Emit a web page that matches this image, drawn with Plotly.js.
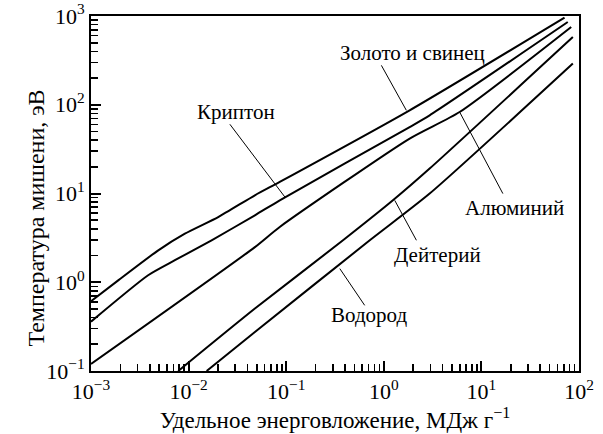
<!DOCTYPE html>
<html>
<head>
<meta charset="utf-8">
<script src="https://cdn.plot.ly/plotly-3.0.1.min.js"></script>
<style>html,body{margin:0;padding:0;background:#fff;}#chart{width:603px;height:434px;}</style>
</head>
<body>
<div id="chart"></div>
<script>
// Series names (labels drawn on the chart)
const seriesNames = ["Золото и свинец", "Криптон", "Алюминий", "Дейтерий", "Водород"];

// Specific energy deposition, MJ/g  (x) and target temperature, eV (y)
const goldX = [0.001, 0.0019, 0.00489, 0.00916, 0.0201, 0.0478, 0.0859, 1.84, 71.1];
const goldY = [0.61, 1.05, 2.29, 3.53, 5.43, 9.55, 13.5, 86.5, 959];

const kryptonX = [0.001, 0.00385, 0.00724, 0.0172, 0.0478, 0.0859, 1.84, 2.95, 76.7];
const kryptonY = [0.36, 1.20, 1.77, 2.97, 5.68, 8.38, 56.1, 76.0, 855];

const aluminumX = [0.001, 0.0478, 0.0859, 1.84, 5.98, 83.2];
const aluminumY = [0.12, 2.49, 4.20, 41.6, 82.8, 752];

const deuteriumX = [0.00783, 0.0478, 0.382, 1.24, 2.95, 86.5];
const deuteriumY = [0.1, 0.505, 2.97, 8.38, 19.1, 579];

const hydrogenX = [0.0153, 0.0478, 0.718, 2.95, 86.5];
const hydrogenY = [0.1, 0.275, 2.97, 9.98, 291];

// Tick labels
const xTickVals = [0.001, 0.01, 0.1, 1, 10, 100];
const xTickText = ["10<sup>−3</sup>", "10<sup>−2</sup>", "10<sup>−1</sup>", "10<sup>0</sup>", "10<sup>1</sup>", "10<sup>2</sup>"];
const yTickVals = [0.1, 1, 10, 100, 1000];
const yTickText = ["10<sup>−1</sup>", "10<sup>0</sup>", "10<sup>1</sup>", "10<sup>2</sup>", "10<sup>3</sup>"];

const xTitle = "Удельное энерговложение, МДж г<sup>−1</sup>";
const yTitle = "Температура мишени, эВ";

const FONT = "Liberation Serif, Times New Roman, serif";
const seriesX = [goldX, kryptonX, aluminumX, deuteriumX, hydrogenX];
const seriesY = [goldY, kryptonY, aluminumY, deuteriumY, hydrogenY];

// minor tick positions (2..9 in every decade)
function minorVals(lo, hi) {
  const v = [];
  for (let e = lo; e < hi; e++) for (let m = 2; m <= 9; m++) v.push(m * Math.pow(10, e));
  return v;
}

const traces = seriesX.map((xs, i) => ({
  x: xs, y: seriesY[i], name: seriesNames[i], type: "scatter", mode: "lines",
  line: {color: "#000", width: 2, shape: "spline", smoothing: 0.6},
  hoverinfo: "x+y+name", showlegend: false
}));

// Label placement (log10 coordinates) and leader lines (log10 coordinates)
const labelPos = [[0.291, 2.58], [-1.516, 1.915], [1.34, 0.833], [0.547, 0.304], [-0.155, -0.372]];
const leaders = [
  [-0.025, 2.444, 0.231, 1.937],
  [-1.577, 1.78, -1.014, 0.961],
  [0.777, 1.918, 1.22, 0.999],
  [0.112, 0.923, 0.334, 0.473],
  [-0.451, 0.154, -0.196, -0.26]
];

const annotations = seriesNames.map((n, i) => ({
  x: labelPos[i][0], y: labelPos[i][1], xref: "x", yref: "y", text: n,
  showarrow: false, font: {family: FONT, size: 21, color: "#000"}
}));
annotations.push({
  xref: "paper", yref: "paper", x: -0.143, y: 0.43, text: yTitle, textangle: -90,
  showarrow: false, font: {family: FONT, size: 24, color: "#000"}
});

const p10 = v => Math.pow(10, v);
const shapes = leaders.map(l => ({
  type: "line", xref: "x", yref: "y", x0: p10(l[0]), y0: p10(l[1]), x1: p10(l[2]), y1: p10(l[3]),
  line: {color: "#000", width: 1}
}));

const layout = {
  width: 603, height: 434,
  margin: {l: 91, r: 24, t: 16, b: 63},
  font: {family: FONT, color: "black"},
  xaxis: {
    type: "log", range: [-3, 2],
    showline: true, linecolor: "black", linewidth: 2, mirror: true,
    gridcolor: "rgba(0,0,0,0)",
    ticks: "inside", ticklen: 10, tickwidth: 2, tickcolor: "black",
    tickmode: "array", tickvals: xTickVals, ticktext: xTickText,
    tickfont: {family: FONT, size: 22, color: "black"},
    minor: {ticks: "inside", ticklen: 7, tickwidth: 1.6, tickcolor: "black", tickmode: "array", tickvals: minorVals(-3, 2)},
    title: {text: xTitle, font: {family: FONT, size: 23, color: "black"}, standoff: 6}
  },
  yaxis: {
    type: "log", range: [-1, 3],
    showline: true, linecolor: "black", linewidth: 2, mirror: true,
    gridcolor: "rgba(0,0,0,0)",
    ticks: "inside", ticklen: 10, tickwidth: 2, tickcolor: "black",
    tickmode: "array", tickvals: yTickVals, ticktext: yTickText,
    tickfont: {family: FONT, size: 22, color: "black"},
    minor: {ticks: "inside", ticklen: 7, tickwidth: 1.6, tickcolor: "black", dtick: "D1"}
  },
  annotations: annotations,
  shapes: shapes
};

Plotly.newPlot("chart", traces, layout, {displayModeBar: false, staticPlot: true});
</script>
</body>
</html>
